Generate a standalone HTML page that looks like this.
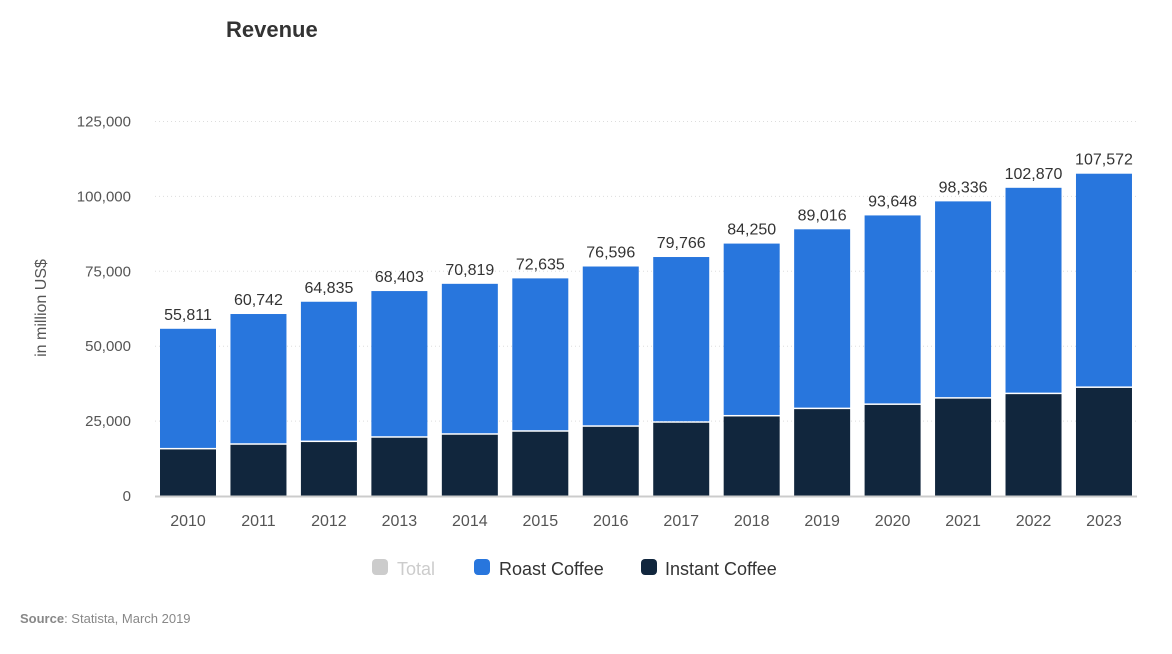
<!DOCTYPE html>
<html><head><meta charset="utf-8"><style>
body{margin:0;background:#fff;font-family:"Liberation Sans",sans-serif;}
svg text{font-family:"Liberation Sans",sans-serif;}
</style></head><body>
<svg width="1172" height="649" id="c">
<text x="226" y="37" font-size="22" font-weight="bold" fill="#333">Revenue</text>
<text transform="translate(46,308) rotate(-90)" text-anchor="middle" font-size="16" fill="#555">in million US$</text>
<g id="grid"></g><g id="bars"></g><g id="labels"></g>
<line x1="155" y1="496.5" x2="1137" y2="496.5" stroke="#ccc" stroke-width="2"/>
<g>
<g><rect x="372" y="559" width="16" height="16" rx="4" fill="#ccc"/><text x="397" y="575" font-size="18" fill="#ccc">Total</text></g>
<g><rect x="474" y="559" width="16" height="16" rx="4" fill="#2876dd"/><text x="499" y="575" font-size="18" fill="#333">Roast Coffee</text></g>
<g><rect x="641" y="559" width="16" height="16" rx="4" fill="#11263d"/><text x="665" y="575" font-size="18" fill="#333">Instant Coffee</text></g>
</g>
<text x="20" y="623" font-size="13" fill="#888"><tspan font-weight="bold">Source</tspan>: Statista, March 2019</text>
</svg>
<script>
const years=["2010","2011","2012","2013","2014","2015","2016","2017","2018","2019","2020","2021","2022","2023"];
const totals=[55811,60742,64835,68403,70819,72635,76596,79766,84250,89016,93648,98336,102870,107572];
const instant=[16050,17600,18500,19950,20950,21950,23600,24950,27050,29500,30900,33000,34500,36570];
const yTicks=[0,25000,50000,75000,100000,125000];
const NS="http://www.w3.org/2000/svg";
const y0=496,yMax=125000,yTop=121.5;
const Y=v=>y0-(v/yMax)*(y0-yTop);
const X=i=>188+i*70.46;
function el(t,a,p){const e=document.createElementNS(NS,t);for(const k in a)e.setAttribute(k,a[k]);document.getElementById(p).appendChild(e);return e;}
yTicks.forEach(v=>{
 if(v>0){const l=el('line',{x1:155,x2:1137,y1:Y(v),y2:Y(v),stroke:'#ddd','stroke-dasharray':'1,3'},'grid');
 
 }
 const t=el('text',{x:131,y:Y(v)+5,'text-anchor':'end','font-size':'15',fill:'#555'},'grid');
 t.textContent=v.toLocaleString('en-US');
 
 
});
years.forEach((yr,i)=>{
 const cx=X(i),w=56;
 const r=el('rect',{x:cx-w/2,y:Y(totals[i]),width:w,height:Y(instant[i])-Y(totals[i]),fill:'#2876dd'},'bars');
 
 
 const b=el('rect',{x:cx-w/2,y:Y(instant[i])+1.5,width:w,height:y0-Y(instant[i])-1.5,fill:'#11263d'},'bars');
 
 
 const t=el('text',{x:cx,y:Y(totals[i])-9,'text-anchor':'middle','font-size':'16',fill:'#333'},'labels');
 t.textContent=totals[i].toLocaleString('en-US');
 
 
 const x=el('text',{x:cx,y:526,'text-anchor':'middle','font-size':'16',fill:'#555'},'labels');
 x.textContent=yr;
 
 
});
</script>
</body></html>
